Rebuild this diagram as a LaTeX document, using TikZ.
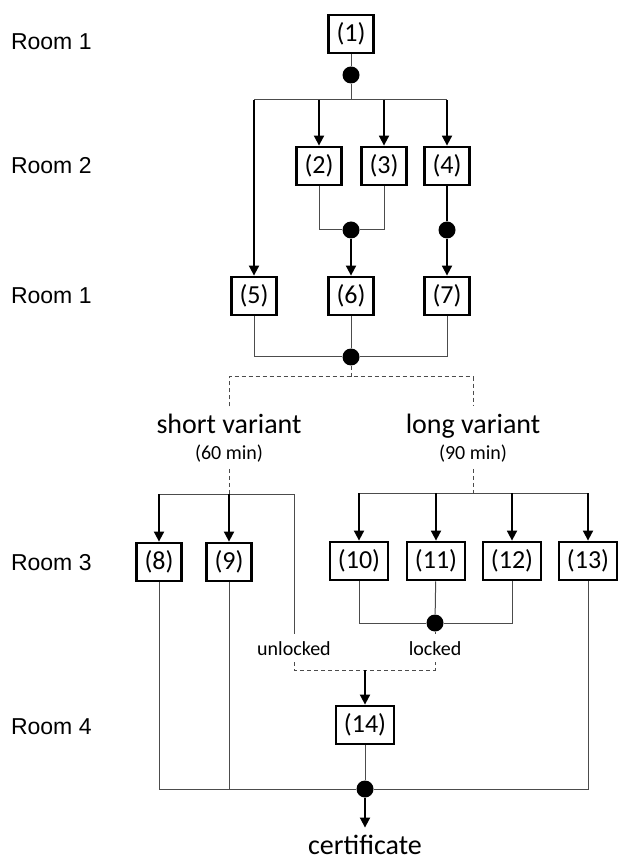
\documentclass[tikz,border=0pt]{standalone}
\usepackage{fontspec}
\setmainfont{Carlito}
\newfontfamily\roomfont{Liberation Sans}
\usetikzlibrary{arrows.meta, positioning, calc}

\tikzset{
	stage/.style={draw, line width=1.4pt, inner xsep=4pt, inner ysep=2pt, minimum height=19pt, font=\fontsize{13}{15}\selectfont},
	junction/.style={circle, fill, inner sep=0pt, minimum size=8.5pt},
	room/.style={anchor=base west, font=\roomfont\fontsize{11.5}{13}\selectfont},
	variant/.style={anchor=base, font=\fontsize{14}{16}\selectfont},
	flow/.style={-{Triangle[length=5pt,width=5pt]}, line width=0.9pt},
	link/.style={black!70, line width=0.5pt},
	alt/.style={black!70, line width=0.5pt, dash pattern=on 2pt off 1.5pt},
}

\begin{document}
\begin{tikzpicture}[x=0.5pt, y=-0.5pt]
	\useasboundingbox (0,0) rectangle (618,860);
	% rooms
	\node[room] (r1) at (4,50) {Room 1};
	\node[room] (r2) at (4,174) {Room 2};
	\node[room] (r3) at (4,304) {Room 1};
	\node[room] (r4) at (4,570) {Room 3};
	\node[room] (r5) at (4,734) {Room 4};
	% stations
	\node[stage] (s1) at (351,34) {(1)};
	\node[stage] (s2) at (319,166) {(2)};
	\node[stage] (s3) at (384,166) {(3)};
	\node[stage] (s4) at (447,166) {(4)};
	\node[stage] (s5) at (254,296) {(5)};
	\node[stage] (s6) at (351,296) {(6)};
	\node[stage] (s7) at (447,296) {(7)};
	\node[stage] (s8) at (159,562) {(8)};
	\node[stage] (s9) at (229,562) {(9)};
	\node[stage] (s10) at (359,561) {(10)};
	\node[stage] (s11) at (436,561) {(11)};
	\node[stage] (s12) at (512,561) {(12)};
	\node[stage] (s13) at (588,561) {(13)};
	\node[stage] (s14) at (365,725) {(14)};
	% junctions
	\node[junction] (j1) at (351,75) {};
	\node[junction] (j2) at (351,230) {};
	\node[junction] (j3) at (447,230) {};
	\node[junction] (j4) at (351,357) {};
	\node[junction] (j5) at (435,623) {};
	\node[junction] (j6) at (365,789) {};
	% labels
	\node[variant] (v1) at (229,433) {short variant};
	\node[variant, font=\fontsize{10}{12}\selectfont] (t1) at (229,459) {(60 min)};
	\node[variant] (v2) at (473,433) {long variant};
	\node[variant, font=\fontsize{10}{12}\selectfont] (t2) at (473,459) {(90 min)};
	\node[anchor=base, font=\fontsize{10}{12}\selectfont] (ul) at (294,655) {unlocked};
	\node[anchor=base, font=\fontsize{10}{12}\selectfont] (lk) at (435,655) {locked};
	\node[anchor=base, font=\fontsize{14}{16}\selectfont] (cert) at (365,854) {certificate};
	% bars
	\coordinate (b1) at (351,100);
	\coordinate (b2) at (351,377);
	\coordinate (b3) at (229,494);
	\coordinate (b4) at (473,493);
	\coordinate (b5) at (365,670);

	\draw[link] (s1) -- (j1) -- (b1);
	\draw[link] (s5 |- b1) -- (s4 |- b1);
	\foreach \to in {s2,s3,s4,s5}
		\draw[flow] (\to |- b1) -- (\to);
	\draw[link] (s2) |- (j2) -| (s3);
	\draw[line width=0.9pt] (s4) -- (j3);
	\foreach \from/\to in {j2/s6,j3/s7}
		\draw[flow] (\from) -- (\to);
	\draw[link] (s5) |- (j4) -| (s7);
	\draw[link] (s6) -- (j4);
	% variants
	\draw[alt] (j4) -- (b2);
	\draw[alt] (v1) |- (b2) -| (v2);
	\draw[alt] (t1) -- (b3);
	\draw[alt] (t2) -- (b4);
	\draw[link] (s8 |- b3) -| (ul);
	\draw[link] (s10 |- b4) -- (s13 |- b4);
	\foreach \to in {s8,s9}
		\draw[flow] (\to |- b3) -- (\to);
	\foreach \to in {s10,s11,s12,s13}
		\draw[flow] (\to |- b4) -- (\to);
	\draw[link] (s10) |- (j5) -| (s12);
	\draw[link] (s11) -- (j5);
	\draw[alt] (j5) -- (lk);
	\draw[alt] (ul) |- (b5) -| (lk);
	\draw[flow] (b5) -- (s14);
	% exit
	\draw[link] (s14) -- (j6);
	\draw[link] (s8) |- (j6) -| (s13);
	\draw[link] (s9) -- (s9 |- j6);
	\draw[flow] (j6) -- (cert);
\end{tikzpicture}
\end{document}
